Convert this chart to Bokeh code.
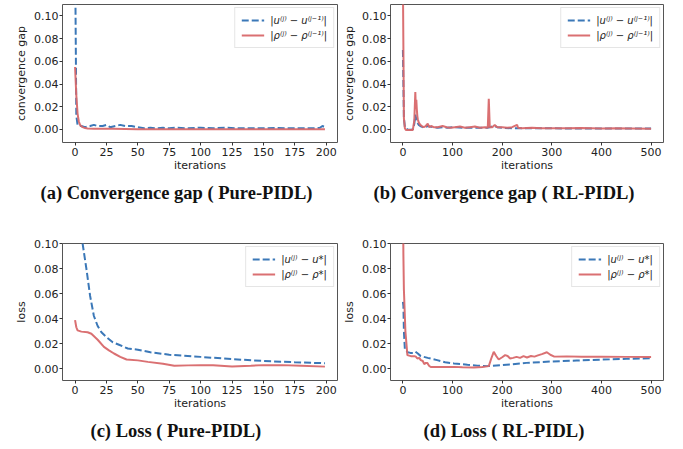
from bokeh.plotting import figure
from bokeh.layouts import column, row
from bokeh.models import Range1d, FixedTicker, NumeralTickFormatter, Legend, LegendItem, Title
from bokeh.embed import file_html
from bokeh.resources import INLINE

# ---------------- data ----------------
# (a) convergence gap, Pure-PIDL
a_u_x = [0,1,2,3,5,8,12,15,18,22,25,28,32,36,40,45,50,55,60,65,70,75,80,90,100,110,120,130,140,150,160,170,180,190,195,197,199]
a_u_y = [0.16,0.012,0.004,0.003,0.003,0.002,0.003,0.004,0.003,0.003,0.004,0.002,0.003,0.004,0.003,0.003,0.002,0.001,0.0015,0.001,
         0.0015,0.001,0.0015,0.001,0.0015,0.001,0.0015,0.001,0.001,0.001,0.0012,0.001,0.001,0.001,0.0015,0.003,0.002]
a_r_x = [0,1,2,3,4,6,8,10,15,20,30,40,50,60,80,100,150,199]
a_r_y = [0.055,0.03,0.014,0.007,0.004,0.002,0.0012,0.0008,0.0007,0.0006,0.0005,0.0004,0.0002,0.0001,0.0001,0.0001,0.0001,0.0001]

# (b) convergence gap, RL-PIDL
b_u_x = [0,2,4,6,10,15,20,23,25,27,29,32,35,40,45,50,60,70,80,90,100,120,140,160,170,175,180,185,190,200,220,250,300,350,400,450,500]
b_u_y = [0.07,0.01,0.002,0.0005,0.0,-0.0002,0.0,0.005,0.013,0.009,0.006,0.004,0.003,0.002,0.002,0.003,0.002,0.0015,0.002,0.0015,
         0.002,0.0015,0.0015,0.0015,0.0015,0.002,0.0025,0.003,0.002,0.0015,0.001,0.001,0.001,0.0008,0.0008,0.0008,0.0008]
b_r_x = [0,2,4,6,10,15,20,23,25,26,27,28,29,30,32,35,38,42,46,50,53,57,62,70,80,88,95,105,115,125,135,145,155,165,171,173,175,180,185,190,
         200,210,220,230,232,240,260,280,300,330,360,400,430,460,500]
b_r_y = [0.13,0.01,0.001,-0.0005,-0.0005,-0.0005,-0.0004,0.008,0.033,0.02,0.026,0.018,0.012,0.009,0.006,0.004,0.003,0.002,0.003,0.005,
         0.002,0.003,0.002,0.002,0.003,0.002,0.0015,0.002,0.0025,0.0015,0.002,0.0025,0.0015,0.002,0.0015,0.027,0.002,0.002,0.004,0.002,
         0.002,0.0015,0.002,0.004,0.0015,0.001,0.0015,0.001,0.001,0.001,0.0012,0.0008,0.001,0.0008,0.0005]

# (c) loss, Pure-PIDL
c_u_x = [0,3,6,9,12,15,18,21,25,30,35,42,50,60,75,100,125,150,175,199]
c_u_y = [0.22,0.15,0.10,0.08,0.058,0.042,0.034,0.029,0.025,0.021,0.019,0.016,0.015,0.013,0.011,0.0093,0.0075,0.006,0.005,0.0042]
c_r_x = [0,1,2,5,10,13,18,23,27,31,36,41,50,58,70,79,90,100,110,125,140,150,165,180,199]
c_r_y = [0.0387,0.033,0.0305,0.0295,0.029,0.0278,0.023,0.0173,0.0145,0.012,0.0093,0.0072,0.0065,0.0053,0.0038,0.0022,0.0025,0.0027,
         0.0026,0.0016,0.0022,0.0027,0.0027,0.0022,0.0015]

# (d) loss, RL-PIDL
d_u_x = [0,1,2,4,10,15,20,25,30,36,50,69,85,103,130,150,169,200,249,300,350,400,450,500]
d_u_y = [0.0533,0.05,0.03,0.0147,0.013,0.0125,0.0125,0.0135,0.012,0.0099,0.0085,0.0067,0.005,0.004,0.003,0.0023,0.0019,0.0027,
         0.0045,0.0056,0.0064,0.0071,0.0077,0.0082]
d_r_x = [0,1,2,5,9,16,23,26,29,33,36,40,43,46,49,53,56,70,85,103,120,143,160,173,178,183,188,193,200,206,211,216,222,229,236,243,
         250,258,265,272,280,290,297,305,330,360,400,450,500]
d_r_y = [0.14,0.09,0.063,0.03,0.0107,0.0099,0.0099,0.0095,0.008,0.0085,0.0067,0.006,0.0035,0.0045,0.0045,0.002,0.0013,0.0013,0.0012,
         0.0013,0.001,0.0008,0.0012,0.0019,0.008,0.0133,0.01,0.0072,0.009,0.0107,0.01,0.008,0.0085,0.0093,0.0085,0.0099,0.0088,0.01,
         0.0095,0.0105,0.0115,0.013,0.011,0.0095,0.0097,0.0094,0.0094,0.0093,0.0092]

x_ticks_200 = [0, 25, 50, 75, 100, 125, 150, 175, 200]
x_ticks_500 = [0, 100, 200, 300, 400, 500]
y_ticks = [0.0, 0.02, 0.04, 0.06, 0.08, 0.10]

captions = ["(a) Convergence gap ( Pure-PIDL)", "(b) Convergence gap ( RL-PIDL)",
            "(c) Loss ( Pure-PIDL)", "(d) Loss ( RL-PIDL)"]
ylabels = ["convergence gap", "convergence gap", "loss", "loss"]
gap_labels = ["|u\u207d\u02b2\u207e \u2212 u\u207d\u02b2\u207b\u00b9\u207e|", "|\u03c1\u207d\u02b2\u207e \u2212 \u03c1\u207d\u02b2\u207b\u00b9\u207e|"]
loss_labels = ["|u\u207d\u02b2\u207e \u2212 u*|", "|\u03c1\u207d\u02b2\u207e \u2212 \u03c1*|"]

BLUE = "#3b78b8"
RED = "#d8686a"
TICK_FONT = "DejaVu Sans"


def panel(ux, uy, rx, ry, xr, yr, xticks, ylabel, labels, caption, cap_off, width, height,
          bl, br, bt, bb):
    p = figure(width=width, height=height, output_backend="svg", toolbar_location=None,
               x_range=Range1d(*xr), y_range=Range1d(*yr),
               min_border_left=bl, min_border_right=br, min_border_top=bt, min_border_bottom=bb)
    p.background_fill_color = "white"
    p.border_fill_color = "white"
    p.outline_line_color = "#555555"
    p.outline_line_width = 1
    p.grid.visible = False
    for ax in (p.xaxis[0], p.yaxis[0]):
        ax.axis_line_color = None
        ax.minor_tick_line_color = None
        ax.major_tick_in = 0
        ax.major_tick_out = 3
        ax.major_tick_line_color = "#333333"
        ax.major_label_text_font = TICK_FONT
        ax.major_label_text_font_size = "11px"
        ax.major_label_text_color = "#222222"
        ax.axis_label_text_font = TICK_FONT
        ax.axis_label_text_font_size = "11px"
        ax.axis_label_text_font_style = "normal"
        ax.axis_label_text_color = "#222222"
    p.xaxis.ticker = FixedTicker(ticks=xticks)
    p.yaxis.ticker = FixedTicker(ticks=y_ticks)
    p.yaxis.formatter = NumeralTickFormatter(format="0.00")
    p.xaxis.major_label_standoff = 2
    p.yaxis.major_label_standoff = 1
    p.xaxis.axis_label = "iterations"
    p.xaxis.axis_label_standoff = 0
    p.yaxis.axis_label = ylabel
    p.yaxis.axis_label_standoff = 3

    lu = p.line(ux, uy, line_color=BLUE, line_width=2, line_dash="7 3")
    lr = p.line(rx, ry, line_color=RED, line_width=2, line_alpha=0.95)

    leg = Legend(items=[LegendItem(label=labels[0], renderers=[lu]),
                        LegendItem(label=labels[1], renderers=[lr])],
                 location="top_right")
    leg.label_text_font = TICK_FONT
    leg.label_text_font_size = "10px"
    leg.label_text_font_style = "italic"
    leg.label_text_color = "#222222"
    leg.glyph_width = 23
    leg.glyph_height = 12
    leg.label_height = 12
    leg.label_standoff = 6
    leg.spacing = 3
    leg.padding = 6
    leg.margin = 3
    leg.border_line_color = "#cccccc"
    leg.border_line_width = 1
    leg.background_fill_alpha = 0.9
    p.add_layout(leg, "center")

    t = Title(text=caption, align="left", offset=cap_off, text_font="Liberation Serif",
              text_font_size="18.5px", text_font_style="bold", text_color="#111111", standoff=12)
    p.add_layout(t, "below")
    return p


top_yr = (-0.0115, 0.11)
bot_yr = (-0.0096, 0.10)

pa = panel(a_u_x, a_u_y, a_r_x, a_r_y, (-10, 209), top_yr, x_ticks_200, ylabels[0], gap_labels, captions[0], -22,
           340, 222, 62, 3, 4, 80)
pb = panel(b_u_x, b_u_y, b_r_x, b_r_y, (-25, 525), top_yr, x_ticks_500, ylabels[1], gap_labels, captions[1], -17,
           343, 222, 48, 20, 4, 80)
pc = panel(c_u_x, c_u_y, c_r_x, c_r_y, (-10, 209), bot_yr, x_ticks_200, ylabels[2], loss_labels, captions[2], 28,
           340, 227, 62, 3, 21, 69)
pd = panel(d_u_x, d_u_y, d_r_x, d_r_y, (-25, 525), bot_yr, x_ticks_500, ylabels[3], loss_labels, captions[3], 33,
           343, 227, 48, 20, 21, 69)

layout = column(row(pa, pb), row(pc, pd))

open("out.html", "w").write(file_html(layout, INLINE))
